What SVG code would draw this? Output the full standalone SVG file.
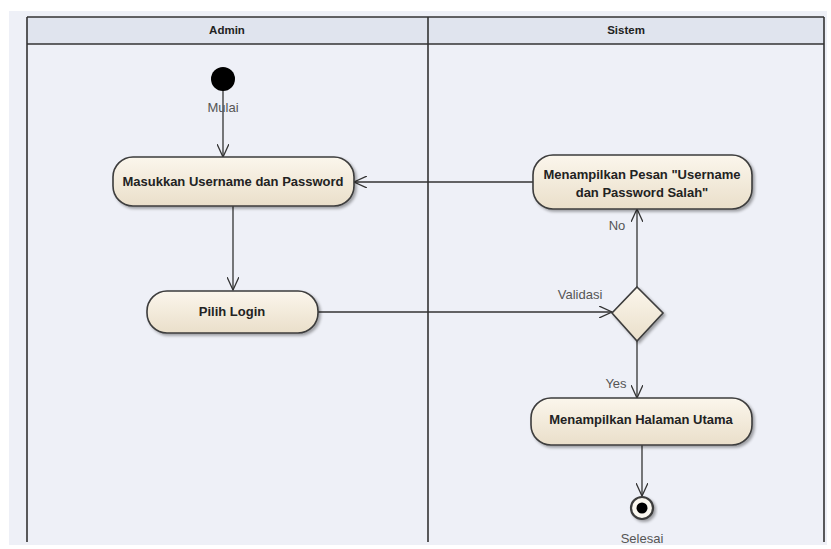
<svg xmlns="http://www.w3.org/2000/svg" width="831" height="549" viewBox="0 0 831 549">
<defs>
<linearGradient id="nodeFill" x1="0" y1="0" x2="0" y2="1">
<stop offset="0" stop-color="#fbf6ec"/>
<stop offset="1" stop-color="#eadfca"/>
</linearGradient>
<filter id="shadow" x="-10%" y="-20%" width="130%" height="160%">
<feGaussianBlur in="SourceAlpha" stdDeviation="1.5"/>
<feOffset dx="2" dy="2" result="b"/>
<feComponentTransfer><feFuncA type="linear" slope="0.35"/></feComponentTransfer>
<feMerge><feMergeNode/><feMergeNode in="SourceGraphic"/></feMerge>
</filter>
<marker id="open" viewBox="0 0 14 12" refX="13" refY="6" markerWidth="14" markerHeight="12" markerUnits="userSpaceOnUse" orient="auto">
<path d="M0,0 L13,6 L0,12" fill="none" stroke="#333" stroke-width="1.3"/>
</marker>
<style>
.lane{fill:none;stroke:#333;stroke-width:1.6}
.node{fill:url(#nodeFill);stroke:#3c3c3c;stroke-width:1.6;filter:url(#shadow)}
.t{font-family:"Liberation Sans",Arial,sans-serif;font-size:13px;font-weight:bold;fill:#222;text-anchor:middle}
.h{font-family:"Liberation Sans",Arial,sans-serif;font-size:11.5px;font-weight:bold;fill:#222;text-anchor:middle}
.lbl{font-family:"Liberation Sans",Arial,sans-serif;font-size:13px;fill:#555;text-anchor:middle}
.c{fill:none;stroke:#333;stroke-width:1.3;marker-end:url(#open)}
</style>
</defs>
<rect x="0" y="0" width="831" height="549" fill="#ffffff"/>
<rect x="9" y="11" width="818" height="534" fill="#eef0f7"/>
<g id="lanes">
<rect x="27" y="17" width="797" height="27" fill="#e0e4ee"/>
<line class="lane" x1="27" y1="17" x2="824" y2="17"/>
<line class="lane" x1="27" y1="44" x2="824" y2="44"/>
<line class="lane" x1="27" y1="17" x2="27" y2="542"/>
<line class="lane" x1="428" y1="17" x2="428" y2="542"/>
<line class="lane" x1="824" y1="17" x2="824" y2="542"/>
<text class="h" x="227" y="34">Admin</text>
<text class="h" x="626" y="34">Sistem</text>
</g>
<g id="connectors">
<path class="c" d="M223,90 L223,157"/>
<path class="c" d="M233,206 L233,290"/>
<path class="c" d="M318,312 L612,312"/>
<path class="c" d="M637,287 L637,209"/>
<path class="c" d="M533,182 L354,182"/>
<path class="c" d="M637,341 L637,398"/>
<path class="c" d="M642,445 L642,496"/>
<text class="lbl" x="223" y="112">Mulai</text>
<text class="lbl" x="580" y="299">Validasi</text>
<text class="lbl" x="617" y="230">No</text>
<text class="lbl" x="616" y="388">Yes</text>
</g>
<g id="start">
<circle cx="223" cy="79" r="12" fill="#000"/>
</g>
<g id="masukkan">
<rect class="node" x="113" y="157" width="241" height="49" rx="20"/>
<text class="t" x="233" y="186">Masukkan Username dan Password</text>
</g>
<g id="pilih">
<rect class="node" x="147" y="291" width="171" height="42" rx="20"/>
<text class="t" x="232" y="316">Pilih Login</text>
</g>
<g id="validasi">
<path class="node" d="M637,287 L663,313 L637,341 L612,313 Z"/>
</g>
<g id="pesan">
<rect class="node" x="533" y="155" width="219" height="54" rx="20"/>
<text class="t" x="642" y="179">Menampilkan Pesan "Username</text>
<text class="t" x="642" y="197">dan Password Salah"</text>
</g>
<g id="utama">
<rect class="node" x="531" y="398" width="221" height="47" rx="20"/>
<text class="t" x="641" y="424">Menampilkan Halaman Utama</text>
</g>
<g id="end">
<circle cx="642" cy="508" r="11" fill="#fbf8f0" stroke="#3c3c3c" stroke-width="2.2" filter="url(#shadow)"/>
<circle cx="642" cy="508" r="5.5" fill="#000"/>
<text class="lbl" x="642" y="543">Selesai</text>
</g>
</svg>
